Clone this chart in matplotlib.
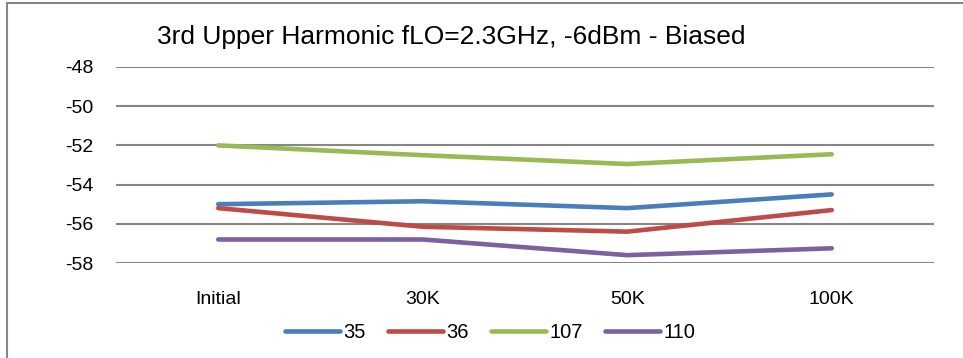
import matplotlib.pyplot as plt
from matplotlib.patches import Rectangle

categories = ["Initial", "30K", "50K", "100K"]
series_names = ["35", "36", "107", "110"]
s35 = [-55.0, -54.85, -55.2, -54.5]
s36 = [-55.2, -56.15, -56.4, -55.3]
s107 = [-52.0, -52.5, -52.95, -52.45]
s110 = [-56.8, -56.8, -57.6, -57.25]
colors = ["#4A7EBB", "#BE4B48", "#98B954", "#7D60A0"]
yticks = [-58, -56, -54, -52, -50, -48]

plt.rcParams["font.family"] = ["Liberation Sans", "DejaVu Sans"]

fig = plt.figure(figsize=(9.63, 3.58), dpi=100)
ax = fig.add_axes([116 / 963, 1 - 263 / 358, 818 / 963, 196 / 358])

x = list(range(len(categories)))
for name, vals, c in zip(series_names, [s35, s36, s107, s110], colors):
    ax.plot(x, vals, color=c, lw=3.3, solid_capstyle="round", label=name)

ax.set_xlim(-0.5, 3.5)
ax.set_ylim(-58, -48)
ax.set_yticks(yticks)
ax.set_yticklabels([str(v) for v in yticks])
ax.set_xticks(x)
ax.set_xticklabels(categories)
ax.tick_params(length=0, labelsize=14)
ax.tick_params(axis="y", pad=16.5)
ax.tick_params(axis="x", pad=20)
ax.grid(axis="y", color="#868686", lw=1.5)
ax.set_axisbelow(True)
for s in ax.spines.values():
    s.set_visible(False)

fig.text(451 / 963, 1 - 37 / 358, "3rd Upper Harmonic fLO=2.3GHz, -6dBm - Biased",
         ha="center", va="center", fontsize=19)

fig.legend(loc="center", bbox_to_anchor=(490 / 963, 1 - 333 / 358), ncol=4,
           frameon=False, fontsize=14.5, handlelength=2.75, handletextpad=0.15,
           columnspacing=1.1)

fig.patches.append(Rectangle((7 / 963, -0.1), 1.2, 1.1 - 3 / 358, transform=fig.transFigure,
                             fill=False, edgecolor="#868686", lw=1.5))

fig.savefig("out.png", dpi=100)
